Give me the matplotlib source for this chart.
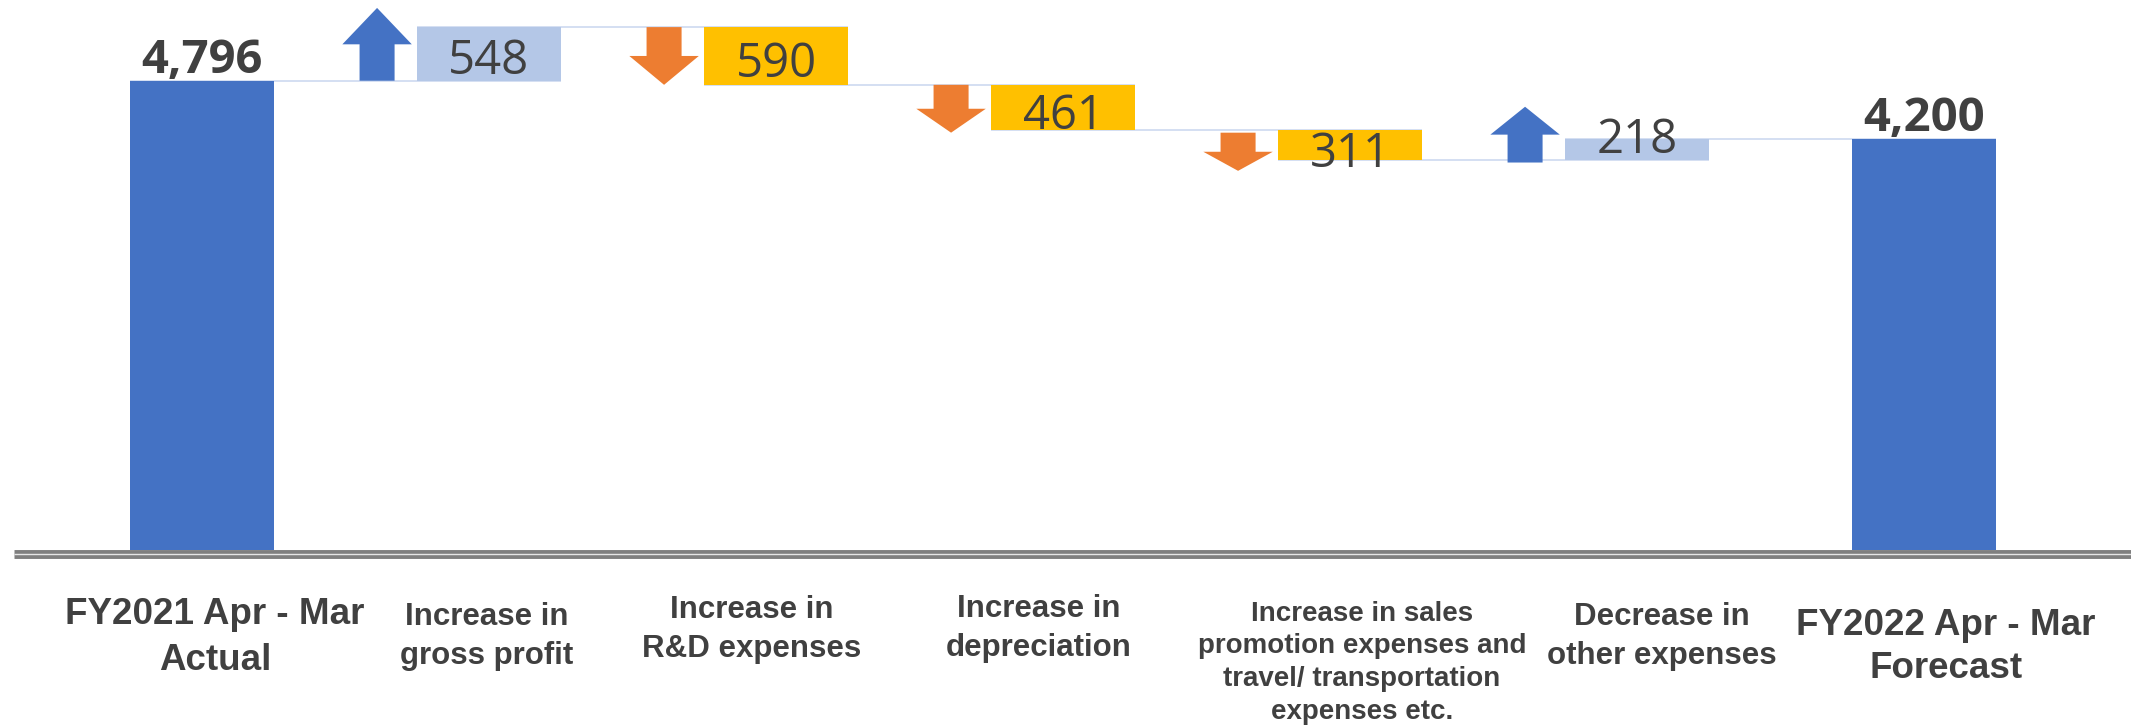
import matplotlib.pyplot as plt
import matplotlib.transforms as mtransforms
from matplotlib.patches import Polygon

# waterfall: operating profit bridge FY2021 -> FY2022
categories = ['FY2021 Apr - Mar\nActual',
              'Increase in\ngross profit',
              'Increase in\nR&D expenses',
              'Increase in\ndepreciation',
              'Increase in sales\npromotion expenses and\ntravel/ transportation\nexpenses etc.',
              'Decrease in\nother expenses',
              'FY2022 Apr - Mar\nForecast']
start_total = 4796
changes = [548, -590, -461, -311, 218]
end_total = 4200

# extent of the decorative arrows next to each step
arrow_from = [4796, 5344, 4754, 4265, 3960]
arrow_to = [5540, 4754, 4265, 3875, 4530]

BLUE = '#4472C4'
LIGHT_BLUE = '#B4C7E7'
GOLD = '#FFC000'
ORANGE = '#ED7D31'
TEXT = '#404040'
LINK = '#C9D6EF'

W, H = 2131, 727
fig = plt.figure(figsize=(W / 100, H / 100), dpi=100)
ax = fig.add_axes([0, 0, 1, 1])
ax.set_axis_off()

step = 287.0    # px between category centres
x0 = 202.0      # px of first centre
upp = 10.22     # value units per px
base_px = 550
ax.set_xlim(-x0 / step, (W - x0) / step)
ax.set_ylim(-(H - base_px) * upp, base_px * upp)

n = len(categories)
xs = list(range(n))
bw = 0.5

# running totals
levels = [start_total]
for c in changes:
    levels.append(levels[-1] + c)

bottoms = [0]
heights = [start_total]
colors = [BLUE]
for i, c in enumerate(changes):
    bottoms.append(min(levels[i], levels[i + 1]))
    heights.append(abs(c))
    colors.append(LIGHT_BLUE if c > 0 else GOLD)
bottoms.append(0)
heights.append(end_total)
colors.append(BLUE)

ax.bar(xs, heights, bottom=bottoms, width=bw, color=colors, zorder=2)

# connectors between neighbouring bars
for i in range(n - 1):
    ax.hlines(levels[i], xs[i] - bw / 2, xs[i + 1] + bw / 2,
              color=LINK, lw=1.1, zorder=1)

# arrows
sw, hw = 0.061, 0.121
for i, c in enumerate(changes):
    cx = xs[i + 1] - 0.39
    y0, y1 = arrow_from[i], arrow_to[i]
    yh = y1 - 0.5 * (y1 - y0)
    pts = [(cx - sw, y0), (cx + sw, y0), (cx + sw, yh), (cx + hw, yh),
           (cx, y1), (cx - hw, yh), (cx - sw, yh)]
    ax.add_patch(Polygon(pts, closed=True, color=BLUE if c > 0 else ORANGE,
                         lw=0, zorder=3))

# value labels
for x, v in [(xs[0], start_total), (xs[-1], end_total)]:
    ax.annotate(f'{v:,}', (x, v), xytext=(0, 5.5), textcoords='offset points',
                ha='center', va='baseline', fontsize=34, fontweight='bold',
                family='Open Sans', color=TEXT, zorder=4)

label_dy = [-1.4, -2.2, -2.5, -2.5, 10.8]
for i, c in enumerate(changes):
    mid = bottoms[i + 1] + heights[i + 1] / 2
    ax.annotate(str(abs(c)), (xs[i + 1], mid), xytext=(0, label_dy[i]),
                textcoords='offset points', ha='center', va='center_baseline',
                fontsize=34, family='Open Sans', color=TEXT, zorder=4)

# double rule along the base
rule = mtransforms.blended_transform_factory(ax.transAxes, fig.transFigure)
ax.plot([14 / W, 1], [1 - 554 / H] * 2, color='#7F7F7F', lw=6.4,
        transform=rule, solid_capstyle='butt', zorder=5)
ax.plot([14 / W, 1], [1 - 553.5 / H] * 2, color='#E6E6E6', lw=1.0,
        transform=rule, solid_capstyle='butt', zorder=6)

# category labels, anchored on the baseline of their last line
lab = mtransforms.blended_transform_factory(ax.transData, fig.transFigure)
lab_dx = [0.045, -0.007, -0.084, -0.084, 0.042, 0.087, 0.077]
lab_base = [670, 664, 657, 656, 719, 664, 678]
lab_size = [26.5, 22.5, 22.5, 22.5, 20, 22.5, 26.5]
lab_ls = [1.4, 1.4, 1.4, 1.4, 1.34, 1.4, 1.3]
for i, name in enumerate(categories):
    ax.text(xs[i] + lab_dx[i], 1 - lab_base[i] / H, name, transform=lab,
            ha='center', va='baseline', multialignment='center',
            fontsize=lab_size[i], fontweight='bold', family='Liberation Sans',
            color=TEXT, linespacing=lab_ls[i])

fig.savefig('out.png', dpi=100, facecolor='white')
